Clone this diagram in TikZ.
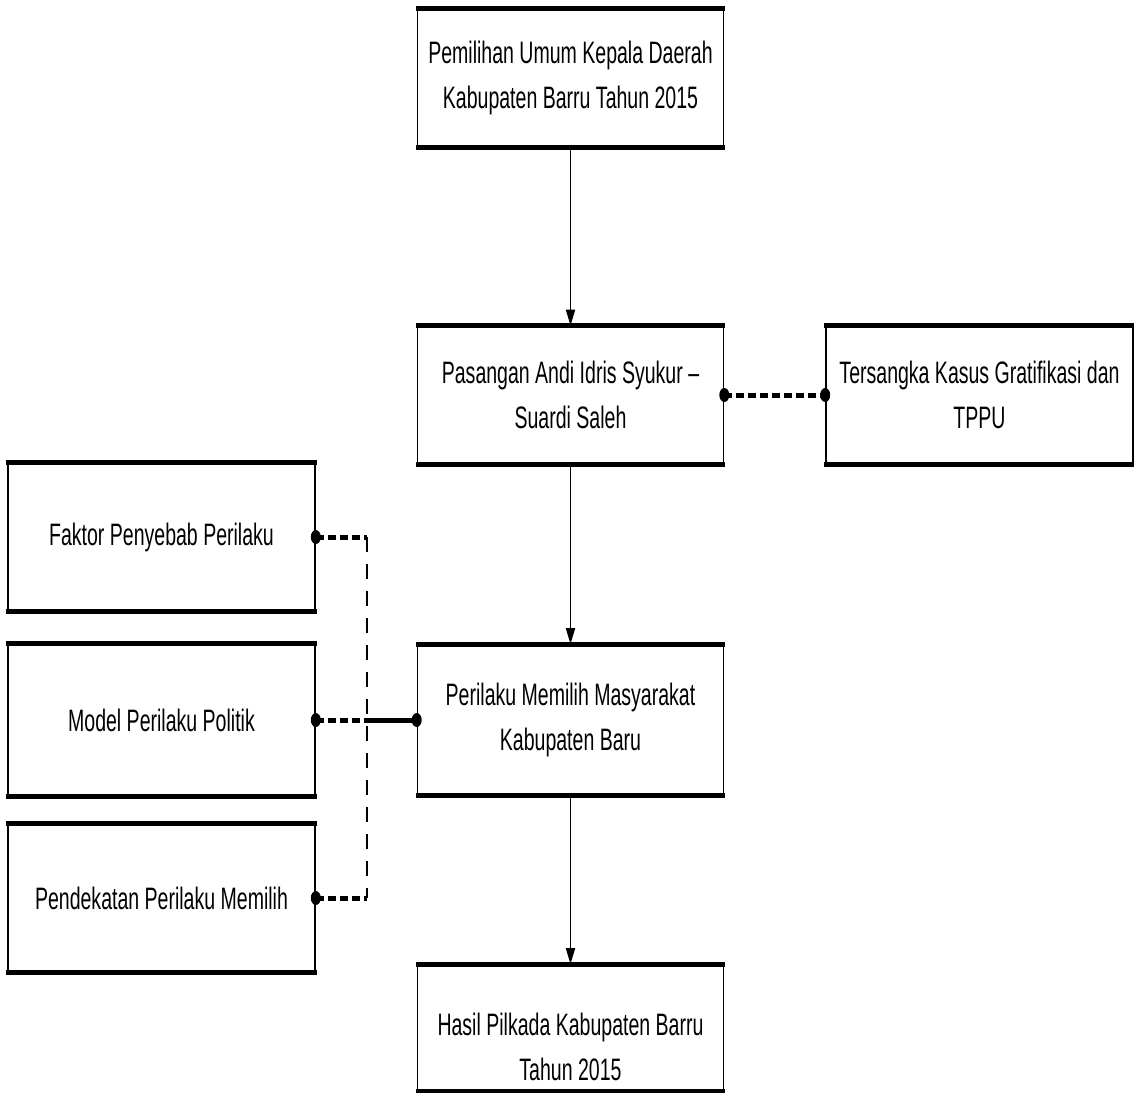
\documentclass[tikz,border=0pt]{standalone}
\usepackage{fontspec}
\setmainfont[FakeStretch=0.63]{Liberation Sans}
\usetikzlibrary{arrows.meta}
\begin{document}
\begin{tikzpicture}[x=1pt,y=-1pt,
  box/.style={draw, line width=1.6pt, minimum width=306pt, align=center, inner sep=0pt,
    font=\fontsize{31}{45}\selectfont},
  arr/.style={line width=1.7pt, -{Triangle[length=16pt,width=9pt]}},
  dotline/.style={line width=5pt, dash pattern=on 8pt off 4pt},
  solidline/.style={line width=5pt},
  dashline/.style={line width=2pt, dash pattern=on 15pt off 12pt},
  edge/.style={line width=5pt}]
\useasboundingbox (0,0) rectangle (1134,1092);
\node[box, minimum height=138pt] (top) at (570.5,78) {Pemilihan Umum Kepala Daerah\\Kabupaten Barru Tahun 2015};
\node[box, minimum height=137pt] (pas) at (570.5,395) {Pasangan Andi Idris Syukur –\\Suardi Saleh};
\node[box, minimum height=137pt, minimum width=307pt] (ter) at (979.5,395) {Tersangka Kasus Gratifikasi dan\\TPPU};
\node[box, minimum height=148pt, minimum width=307pt] (fak) at (161.5,537) {Faktor Penyebab Perilaku};
\node[box, minimum height=152pt, minimum width=307pt] (mod) at (161.5,720) {Model Perilaku Politik};
\node[box, minimum height=147pt, minimum width=307pt] (pen) at (161.5,898) {Pendekatan Perilaku Memilih};
\node[box, minimum height=150pt] (per) at (570.5,720) {Perilaku Memilih Masyarakat\\Kabupaten Baru};
\node[box, minimum height=126pt,
  label={[yshift=-19pt, align=center, inner sep=0pt, font=\fontsize{31}{45}\selectfont]center:Hasil Pilkada Kabupaten Barru\\Tahun 2015}] (has) at (570.5,1028) {};
\foreach \n in {top,pas,ter,fak,mod,pen,per,has}{
  \draw[edge] ([xshift=-0.8pt]\n.north west) -- ([xshift=0.8pt]\n.north east)
              ([xshift=-0.8pt]\n.south west) -- ([xshift=0.8pt]\n.south east);
}
\coordinate (jx) at (367,0);
\draw[arr] (top.south) -- (pas.north);
\draw[arr] (pas.south) -- (per.north);
\draw[arr] (per.south) -- (has.north);
\draw[dotline] (pas.east) -- (ter.west);
\draw[dotline] (fak.east) -- (fak.east -| jx);
\draw[dotline] (mod.east) -- (mod.east -| jx);
\draw[solidline] (mod.east -| jx) -- (per.west);
\draw[dotline] (pen.east) -- (pen.east -| jx);
\draw[dashline] (fak.east -| jx) -- (pen.east -| jx);
\foreach \p in {pas.east,ter.west,fak.east,mod.east,pen.east,per.west}{
  \fill (\p) ellipse [x radius=5pt, y radius=7pt];
}
\end{tikzpicture}
\end{document}
